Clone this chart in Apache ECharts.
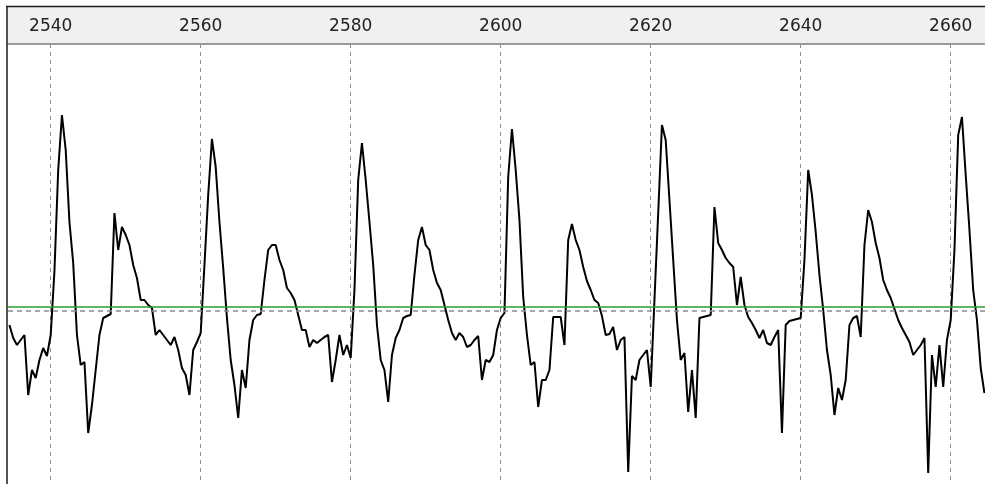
<!DOCTYPE html>
<html>
<head>
<meta charset="utf-8">
<script src="https://cdn.jsdelivr.net/npm/echarts@6/dist/echarts.min.js"></script>
<style>
  html, body { margin: 0; padding: 0; background: #ffffff; }
  #chart { width: 985px; height: 484px; }
</style>
</head>
<body>
<div id="chart"></div>
<script>
// Sample timing of the trace (sample units on the time axis)
const sampleStart = 2534.5;
const sampleStep = 0.5;

// Recorded amplitude, one value per sample
const amplitude = [
  -14, -27, -34, -29, -24, -84, -59, -67, -49, -37,
  -45, -24, 40, 141, 196, 161, 89, 48, -24, -54,
  -51, -122, -94, -59, -24, -7, -5, -3, 98, 61,
  84, 76, 66, 46, 33, 11, 11, 6, 3, -24,
  -19, -24, -29, -34, -26, -39, -57, -64, -84, -39,
  -31, -22, 46, 116, 172, 144, 89, 43, -7, -49,
  -74, -107, -59, -77, -29, -9, -4, -3, 31, 61,
  66, 66, 51, 41, 23, 18, 11, -4, -19, -19,
  -36, -29, -32, -29, -26, -24, -71, -49, -24, -44,
  -34, -47, 21, 131, 168, 131, 89, 46, -14, -49,
  -59, -91, -44, -27, -19, -7, -5, -4, 36, 71,
  84, 66, 61, 41, 28, 21, 6, -9, -22, -29,
  -22, -26, -36, -34, -29, -25, -69, -49, -51, -44,
  -19, -7, -2, 134, 182, 141, 91, 14, -24, -54,
  -51, -96, -69, -69, -59, -6, -6, -6, -34, 71,
  87, 71, 61, 44, 30, 21, 11, 8, -5, -24,
  -23, -16, -39, -29, -26, -161, -65, -69, -49, -44,
  -39, -76, 11, 98, 186, 171, 111, 51, -9, -49,
  -42, -101, -59, -107, -7, -6, -5, -4, 104, 68,
  61, 53, 48, 44, 6, 34, 6, -6, -12, -19,
  -27, -19, -32, -34, -26, -19, -122, -14, -10, -9,
  -8, -7, 51, 141, 116, 79, 36, 1, -39, -64,
  -104, -77, -89, -69, -14, -7, -5, -26, 66, 101,
  89, 68, 53, 31, 21, 13, 2, -9, -17, -24,
  -31, -44, -39, -34, -27, -162, -44, -76, -34, -76,
  -29, -9, 61, 176, 194, 136, 81, 21, -9, -57,
  -82
];

// Time axis tick labels
const timeTicks = [2540, 2560, 2580, 2600, 2620, 2640, 2660];

// Visible window
const timeMin = 2534.307;
const timeMax = 2664.573;
const ampMin = -173;
const ampMax = 267;

// Reference levels
const baselineLevel = 0;
const thresholdLevel = 4;

const points = amplitude.map((v, i) => [sampleStart + i * sampleStep, v]);

const chart = echarts.init(document.getElementById('chart'), null, { renderer: 'canvas' });

chart.setOption({
  animation: false,
  backgroundColor: '#ffffff',
  grid: { left: 8, right: 0, top: 44, bottom: 0, containLabel: false },
  graphic: [
    // header band behind the time axis
    { type: 'rect', z: -1, shape: { x: 7, y: 6, width: 978, height: 38 },
      style: { fill: '#f0f0f0' } },
    { type: 'line', z: 10, shape: { x1: 6, y1: 6.5, x2: 985, y2: 6.5 },
      style: { stroke: '#1a1a1a', lineWidth: 1.5 } },
    { type: 'line', z: 10, shape: { x1: 7, y1: 6, x2: 7, y2: 484 },
      style: { stroke: '#1a1a1a', lineWidth: 1.5 } }
  ],
  xAxis: {
    type: 'value',
    position: 'top',
    min: timeMin,
    max: timeMax,
    axisLine: { show: true, onZero: false, lineStyle: { color: '#9a9a9a', width: 2 } },
    axisTick: { show: false, customValues: timeTicks },
    axisLabel: {
      customValues: timeTicks,
      formatter: (v) => String(Math.round(v)),
      margin: 9,
      color: '#222222',
      fontFamily: 'DejaVu Sans',
      fontSize: 17
    },
    splitLine: {
      show: true,
      lineStyle: { color: '#8c8c8c', width: 1, type: [4, 4] }
    }
  },
  yAxis: {
    type: 'value',
    min: ampMin,
    max: ampMax,
    show: false,
    splitLine: { show: false }
  },
  series: [{
    type: 'line',
    data: points,
    showSymbol: false,
    symbol: 'none',
    lineStyle: { color: '#000000', width: 2 },
    z: 3,
    markLine: {
      silent: true,
      symbol: 'none',
      label: { show: false },
      data: [
        { yAxis: baselineLevel, lineStyle: { color: '#8c8c8c', width: 1.6, type: [5, 4] } },
        { yAxis: thresholdLevel, lineStyle: { color: '#2e9e2e', width: 1.6, type: 'solid' } }
      ]
    }
  }]
});
</script>
</body>
</html>
